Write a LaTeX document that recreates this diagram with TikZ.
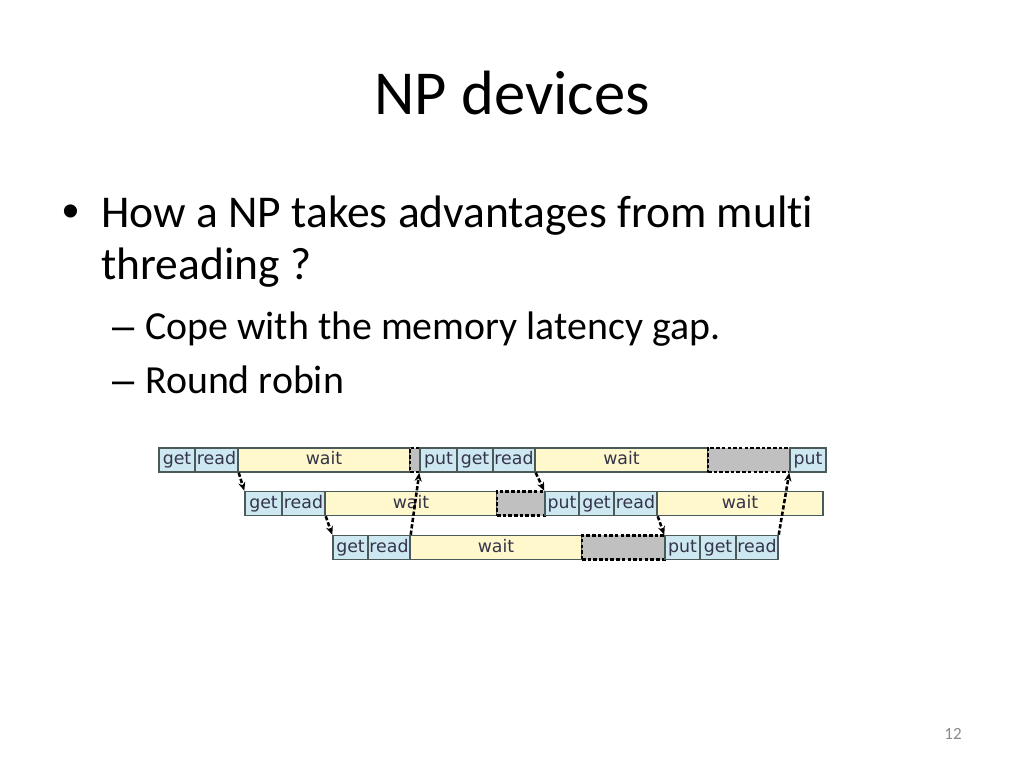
\documentclass[tikz,border=0pt]{standalone}
\usepackage{fontspec}
\setmainfont{Carlito}[Ligatures=NoCommon]
\newfontfamily\cellfont{DejaVu Sans}
\newfontfamily\markfont{Liberation Sans}
\usetikzlibrary{arrows.meta}

\definecolor{cellblue}{HTML}{CDE8F0}
\definecolor{cellyellow}{HTML}{FFF8CC}
\definecolor{cellgray}{HTML}{C0C0C0}
\definecolor{cellline}{HTML}{4A5A5A}
\definecolor{celltext}{HTML}{34344A}
\definecolor{pagegray}{HTML}{898989}

\begin{document}
\begin{tikzpicture}[x=0.703125pt,y=-0.703125pt,
		txt/.style={anchor=base west,inner sep=0pt},
		cell/.style={draw=cellline,line width=1pt,inner sep=0pt,minimum height=16.9pt,
			text height=8.6pt,text depth=2.2pt,
			text=celltext,font=\cellfont\fontsize{12.2}{14}\selectfont},
		op/.style={cell,fill=cellblue,minimum width=#1*0.703125pt},
		waitbox/.style={cell,fill=cellyellow,minimum width=#1*0.703125pt},
		idle/.style={cell,fill=cellgray,draw=black,line width=1.7pt,
			dash pattern=on 2.5pt off 1.5pt,minimum width=#1*0.703125pt},
		link/.style={draw=black,line width=1.8pt,dash pattern=on 3pt off 1.5pt,
			-{Stealth[length=6pt,width=5pt]}}]
		\useasboundingbox (0,0) rectangle (1024,768);

		\node[txt,font=\fontsize{44}{52}\selectfont,anchor=base] (title) at (512,115){NP devices};
		\node[txt,font=\markfont\fontsize{34}{40}\selectfont] (dot) at (62,228){\textbullet};
		\node[txt,font=\fontsize{32}{38}\selectfont] (q1) at (101,228){How a NP takes advantages from multi};
		\node[txt,font=\fontsize{32}{38}\selectfont] (q2) at (101,280){threading ?};
		\node[txt,font=\markfont\fontsize{28}{34}\selectfont] (d1) at (112,339){–};
		\node[txt,font=\fontsize{28}{34}\selectfont] (s1) at (145,339){Cope with the memory latency gap.};
		\node[txt,font=\markfont\fontsize{28}{34}\selectfont] (d2) at (112,393){–};
		\node[txt,font=\fontsize{28}{34}\selectfont] (s2) at (145,393){Round robin};
		\node[txt,font=\fontsize{12}{14}\selectfont,text=pagegray,anchor=base] (page) at (953,739){12};

		\node[op=36] (r1g) at (177,460){get};
		\node[op=43] (r1r) at (216.5,460){read};
		\node[waitbox=172] (r1w) at (324,460){wait};
		\node[idle=10] (r1i) at (415,460){};
		\node[op=37] (r1p) at (438.5,460){put};
		\node[op=36] (r1g2) at (475,460){get};
		\node[op=42] (r1r2) at (514,460){read};
		\node[waitbox=173] (r1w2) at (621.5,460){wait};
		\node[idle=82] (r1i2) at (749,460){};
		\node[op=36] (r1p2) at (808,460){put};

		\node[op=37] (r2g) at (263.5,503.5){get};
		\node[op=43] (r2r) at (303.5,503.5){read};
		\node[waitbox=172] (r2w) at (411,503.5){wait};
		\node[idle=48] (r2i) at (521,503.5){};
		\node[op=34] (r2p) at (562,503.5){put};
		\node[op=35] (r2g2) at (596.5,503.5){get};
		\node[op=43] (r2r2) at (635.5,503.5){read};
		\node[waitbox=166] (r2w2) at (740,503.5){wait};

		\node[op=35] (r3g) at (350.5,547.5){get};
		\node[op=42] (r3r) at (389,547.5){read};
		\node[waitbox=172] (r3w) at (496,547.5){wait};
		\node[idle=83] (r3i) at (623.5,547.5){};
		\node[op=35] (r3p) at (682.5,547.5){put};
		\node[op=36] (r3g2) at (718,547.5){get};
		\node[op=42] (r3r2) at (757,547.5){read};

		\draw[link] (r1r.south east) -- (r2g.north west);
		\draw[link] (r2r.south east) -- (r3g.north west);
		\draw[link] (r3r.north east) -- (r1p.south west);

		\draw[link] (r1r2.south east) -- (r2p.north west);
		\draw[link] (r2r2.south east) -- (r3p.north west);
		\draw[link] (r3r2.north east) -- (r1p2.south west);

	\end{tikzpicture}
\end{document}
